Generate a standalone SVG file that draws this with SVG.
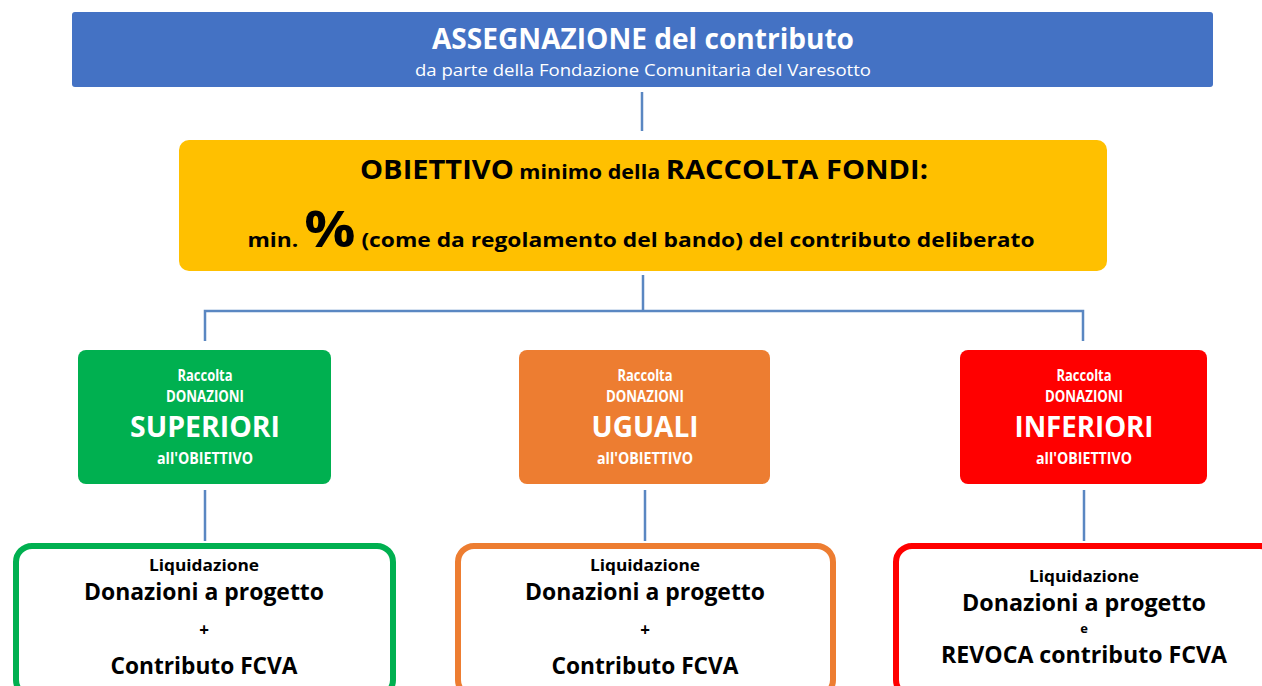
<svg xmlns="http://www.w3.org/2000/svg" width="1262" height="686" viewBox="0 0 1262 686">
<style>
text{font-family:"Open Sans","Liberation Sans",sans-serif;font-weight:bold;text-anchor:middle}
.w{fill:#ffffff}
.k{fill:#000000}
.c{stroke:#5A87C2;stroke-width:2.5;fill:none}
</style>
<rect width="1262" height="686" fill="#ffffff"/>
<g id="connectors">
<line class="c" x1="642" y1="92" x2="642" y2="131"/>
<line class="c" x1="643" y1="275" x2="643" y2="311"/>
<polyline class="c" points="205,341 205,311 1083,311 1083,341"/>
<line class="c" x1="205" y1="490" x2="205" y2="541"/>
<line class="c" x1="645" y1="490" x2="645" y2="541"/>
<line class="c" x1="1084" y1="490" x2="1084" y2="541"/>
</g>
<g id="assegnazione">
<rect x="72" y="12" width="1141" height="75" rx="3" fill="#4472C4"/>
<text class="w" x="643" y="49" font-size="29" textLength="422" lengthAdjust="spacingAndGlyphs">ASSEGNAZIONE del contributo</text>
<text class="w" x="643" y="76" font-size="16.5" style="font-weight:normal" textLength="456" lengthAdjust="spacingAndGlyphs">da parte della Fondazione Comunitaria del Varesotto</text>
</g>
<g id="obiettivo">
<rect x="179" y="140" width="928" height="131" rx="10" fill="#FFC000"/>
<text class="k" x="644" y="179" textLength="568" lengthAdjust="spacingAndGlyphs"><tspan font-size="27">OBIETTIVO</tspan><tspan font-size="20"> minimo della </tspan><tspan font-size="27">RACCOLTA FONDI:</tspan></text>
<text class="k" x="641" y="247" textLength="787" lengthAdjust="spacingAndGlyphs"><tspan font-size="20">min. </tspan><tspan font-size="50">%</tspan><tspan font-size="20">  (come da regolamento del bando) del contributo deliberato</tspan></text>
</g>
<g id="superiori">
<rect x="78" y="350" width="253" height="134" rx="8" fill="#00B050"/>
<text class="w" x="205" y="381" font-size="16" textLength="55" lengthAdjust="spacingAndGlyphs">Raccolta</text>
<text class="w" x="205" y="402" font-size="16" textLength="78" lengthAdjust="spacingAndGlyphs">DONAZIONI</text>
<text class="w" x="205" y="437" font-size="29" textLength="150" lengthAdjust="spacingAndGlyphs">SUPERIORI</text>
<text class="w" x="205" y="464" font-size="16" textLength="96" lengthAdjust="spacingAndGlyphs">all'OBIETTIVO</text>
</g>
<g id="uguali">
<rect x="519" y="350" width="251" height="134" rx="8" fill="#ED7D31"/>
<text class="w" x="645" y="381" font-size="16" textLength="55" lengthAdjust="spacingAndGlyphs">Raccolta</text>
<text class="w" x="645" y="402" font-size="16" textLength="78" lengthAdjust="spacingAndGlyphs">DONAZIONI</text>
<text class="w" x="645" y="437" font-size="29" textLength="107" lengthAdjust="spacingAndGlyphs">UGUALI</text>
<text class="w" x="645" y="464" font-size="16" textLength="96" lengthAdjust="spacingAndGlyphs">all'OBIETTIVO</text>
</g>
<g id="inferiori">
<rect x="960" y="350" width="247" height="134" rx="8" fill="#FF0000"/>
<text class="w" x="1084" y="381" font-size="16" textLength="55" lengthAdjust="spacingAndGlyphs">Raccolta</text>
<text class="w" x="1084" y="402" font-size="16" textLength="78" lengthAdjust="spacingAndGlyphs">DONAZIONI</text>
<text class="w" x="1084" y="437" font-size="29" textLength="139" lengthAdjust="spacingAndGlyphs">INFERIORI</text>
<text class="w" x="1084" y="464" font-size="16" textLength="96" lengthAdjust="spacingAndGlyphs">all'OBIETTIVO</text>
</g>
<g id="liq-superiori">
<rect x="16" y="546" width="377" height="150" rx="16" fill="#ffffff" stroke="#00B050" stroke-width="6"/>
<text class="k" x="204" y="571" font-size="16.5" textLength="110" lengthAdjust="spacingAndGlyphs">Liquidazione</text>
<text class="k" x="204" y="600" font-size="23" textLength="240" lengthAdjust="spacingAndGlyphs">Donazioni a progetto</text>
<text class="k" x="204" y="636" font-size="17">+</text>
<text class="k" x="204" y="674" font-size="23" textLength="187" lengthAdjust="spacingAndGlyphs">Contributo FCVA</text>
</g>
<g id="liq-uguali">
<rect x="458" y="546" width="375" height="150" rx="16" fill="#ffffff" stroke="#ED7D31" stroke-width="6"/>
<text class="k" x="645" y="571" font-size="16.5" textLength="110" lengthAdjust="spacingAndGlyphs">Liquidazione</text>
<text class="k" x="645" y="600" font-size="23" textLength="240" lengthAdjust="spacingAndGlyphs">Donazioni a progetto</text>
<text class="k" x="645" y="636" font-size="17">+</text>
<text class="k" x="645" y="674" font-size="23" textLength="187" lengthAdjust="spacingAndGlyphs">Contributo FCVA</text>
</g>
<g id="liq-inferiori">
<rect x="896" y="546" width="380" height="150" rx="16" fill="#ffffff" stroke="#FF0000" stroke-width="6"/>
<text class="k" x="1084" y="582" font-size="16.5" textLength="110" lengthAdjust="spacingAndGlyphs">Liquidazione</text>
<text class="k" x="1084" y="611" font-size="23" textLength="244" lengthAdjust="spacingAndGlyphs">Donazioni a  progetto</text>
<text class="k" x="1084" y="633" font-size="13">e</text>
<text class="k" x="1084" y="663" font-size="23" textLength="286" lengthAdjust="spacingAndGlyphs">REVOCA contributo FCVA</text>
</g>
</svg>
